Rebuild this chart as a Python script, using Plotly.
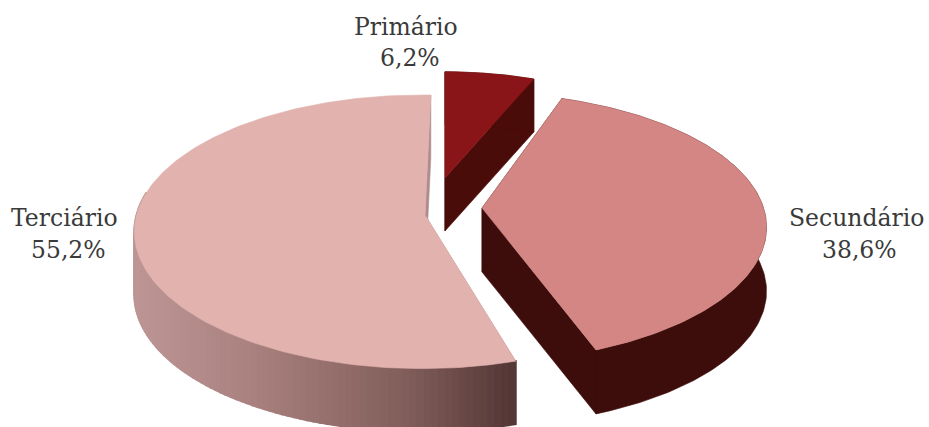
import numpy as np
import plotly.graph_objects as go

labels = ["Primário", "Secundário", "Terciário"]
values = [6.2, 38.6, 55.2]
top_colors = ["#8a1518", "#d38684", "#e1b2ae"]
wall_colors = ["#4a0c09", "#3c0d0a", "#b08c8c"]
# Terciário outer wall shading, left to right
wall_ramp = [(190, 150, 150), (170, 130, 128), (130, 95, 92), (82, 54, 52)]

# Drawing geometry (pixels)
A, B, K = 294.0, 134.5, 0.13
DISK_START = 90.0
center = {"Primário": (445, 178), "Secundário": (476, 210), "Terciário": (422, 214)}
tip = {"Primário": (445, 178), "Secundário": (482, 208), "Terciário": (425, 215)}
depth = {"Primário": 53, "Secundário": 64, "Terciário": 63}
radius = {"Primário": 0.88, "Secundário": 0.985, "Terciário": 1.0}
stretch = {"Primário": 1.0, "Secundário": 0.995, "Terciário": 0.97}
turn = {"Primário": 0.0, "Secundário": 2.8, "Terciário": -2.0}
label_pos = {"Primário": ((406, 27), (410, 58)),
             "Secundário": ((856, 218), (859, 250)),
             "Terciário": ((64, 218), (68, 250))}


def project(name, deg):
    t = np.radians(deg)
    u, v = radius[name] * np.cos(t), radius[name] * np.sin(t)
    w = 1 + K * v
    return center[name][0] + stretch[name] * A * u / w, center[name][1] - B * v / w


def poly(xs, ys, color, lw=0.6):
    return go.Scatter(x=list(xs), y=list(ys), mode="lines", fill="toself",
                      fillcolor=color, line=dict(color=color, width=lw),
                      hoverinfo="skip", showlegend=False)


traces = []
start = DISK_START
for name, val, top, wall in zip(labels, values, top_colors, wall_colors):
    sweep = val * 3.6
    if name == "Terciário":
        a0 = DISK_START + turn[name]
        a1 = a0 + sweep
    else:
        a1 = start + turn[name]
        a0 = a1 - sweep
        start -= sweep
    d = depth[name]
    ang = np.linspace(a0, a1, 160)
    rx, ry = project(name, ang)
    ax, ay = tip[name]
    # flat cut faces
    for e in (a0, a1):
        ex, ey = project(name, e)
        traces.append(poly([ax, ex, ex, ax, ax], [ay, ey, ey + d, ay + d, ay], wall))
    # outer wall
    if name == "Terciário":
        lo, hi = rx.min(), rx.max()
        stops = np.array([0, 0.3, 0.7, 1.0])
        for i in range(len(ang) - 1):
            if ang[i] < 170:
                continue
            frac = (rx[i] - lo) / (hi - lo)
            rgb = [int(np.interp(frac, stops, [c[k] for c in wall_ramp])) for k in range(3)]
            col = f"rgb({rgb[0]},{rgb[1]},{rgb[2]})"
            traces.append(poly([rx[i], rx[i + 1], rx[i + 1], rx[i], rx[i]],
                               [ry[i], ry[i + 1], ry[i + 1] + d, ry[i] + d, ry[i]], col, lw=2))
    else:
        traces.append(poly(list(rx) + list(rx[::-1]) + [rx[0]],
                           list(ry) + list(ry[::-1] + d) + [ry[0]], wall))
    # top face
    traces.append(poly([ax] + list(rx) + [ax], [ay] + list(ry) + [ay], top))

fig = go.Figure(traces)
for name, val in zip(labels, values):
    p1, p2 = label_pos[name]
    for pos, txt in ((p1, name), (p2, f"{val:.1f}%".replace(".", ","))):
        fig.add_annotation(x=pos[0], y=pos[1], text=txt, showarrow=False, xref="x", yref="y",
                           font=dict(family="DejaVu Serif", size=23.5, color="#3a3a3a"))

fig.update_layout(width=929, height=427, margin=dict(l=0, r=0, t=0, b=0),
                  paper_bgcolor="white", plot_bgcolor="white",
                  xaxis=dict(range=[0, 929], visible=False, fixedrange=True),
                  yaxis=dict(range=[427, 0], visible=False, fixedrange=True),
                  showlegend=False)
fig.write_html("out.html", config={"displayModeBar": False},
               post_script="document.body.style.margin='0';")
